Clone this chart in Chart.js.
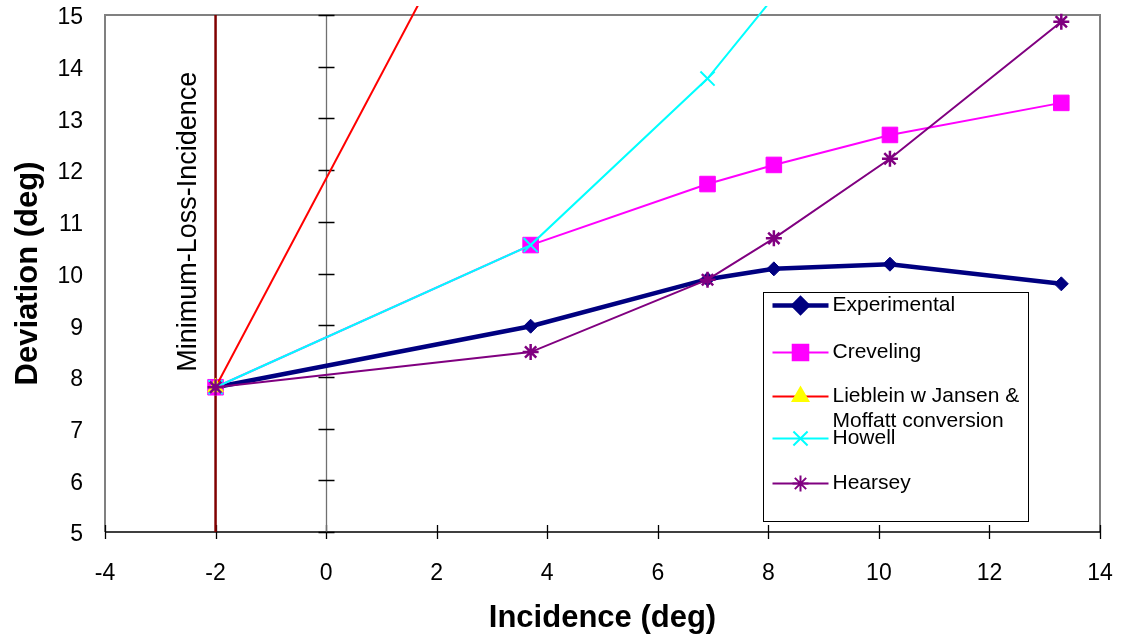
<!DOCTYPE html>
<html>
<head>
<meta charset="utf-8">
<script src="https://cdn.jsdelivr.net/npm/chart.js@4.4.1/dist/chart.umd.min.js"></script>
<style>
html, body { margin: 0; padding: 0; background: #fff; }
canvas { display: block; }
</style>
</head>
<body>
<canvas id="devChart" width="1122" height="641"></canvas>
<script>
// values
const experimentalX = [-2, 3.7, 6.9, 8.1, 10.2, 13.3];
const experimentalY = [7.8, 8.98, 9.89, 10.09, 10.18, 9.8];
const crevelingX = [-2, 3.7, 6.9, 8.1, 10.2, 13.3];
const crevelingY = [7.8, 10.55, 11.73, 12.1, 12.68, 13.3];
const liebleinX = [-2, 3.7];
const liebleinY = [7.8, 19.3];
const howellX = [-2, 3.7, 6.9, 8.1];
const howellY = [7.8, 10.55, 13.77, 15.35];
const hearseyX = [-2, 3.7, 6.9, 8.1, 10.2, 13.3];
const hearseyY = [7.8, 8.48, 9.88, 10.68, 12.22, 14.87];
const minLossX = [-2, -2];
const minLossY = [5, 15];
const xTicks = [-4, -2, 0, 2, 4, 6, 8, 10, 12, 14];
const yTicks = [5, 6, 7, 8, 9, 10, 11, 12, 13, 14, 15];

const FONT = '"Liberation Sans", Arial, sans-serif';

function pts(xs, ys) {
    return xs.map((x, i) => ({ x: x, y: ys[i] }));
}

const axesPlugin = {
    id: 'axesLines',
    beforeDatasetsDraw(chart) {
        const { ctx, chartArea: a, scales: { x, y } } = chart;
        ctx.save();
        // plot area frame
        ctx.strokeStyle = '#808080';
        ctx.lineWidth = 2;
        ctx.beginPath();
        ctx.moveTo(a.left, a.bottom);
        ctx.lineTo(a.left, a.top);
        ctx.lineTo(a.right, a.top);
        ctx.lineTo(a.right, a.bottom);
        ctx.stroke();
        // x axis with crossing ticks
        ctx.strokeStyle = '#000';
        ctx.lineWidth = 1.3;
        ctx.beginPath();
        ctx.moveTo(a.left, a.bottom);
        ctx.lineTo(a.right, a.bottom);
        xTicks.forEach(v => {
            const px = Math.round(x.getPixelForValue(v)) + 0.5;
            ctx.moveTo(px, a.bottom - 7);
            ctx.lineTo(px, a.bottom + 7);
        });
        ctx.stroke();
        // y axis crossing at x = 0
        const x0 = Math.round(x.getPixelForValue(0)) + 0.5;
        ctx.strokeStyle = '#707070';
        ctx.beginPath();
        ctx.moveTo(x0, a.top);
        ctx.lineTo(x0, a.bottom);
        ctx.stroke();
        ctx.strokeStyle = '#000';
        ctx.beginPath();
        yTicks.forEach(v => {
            const py = Math.round(y.getPixelForValue(v)) + 0.5;
            ctx.moveTo(x0 - 8, py);
            ctx.lineTo(x0 + 8, py);
        });
        ctx.stroke();
        ctx.restore();
    },
    afterDraw(chart) {
        const { ctx, scales: { x, y } } = chart;
        ctx.save();
        // label of the minimum loss line
        ctx.translate(x.getPixelForValue(-2) - 27, y.getPixelForValue(11.0));
        ctx.rotate(-Math.PI / 2);
        ctx.font = '27px ' + FONT;
        ctx.fillStyle = '#000';
        ctx.textAlign = 'center';
        ctx.textBaseline = 'middle';
        ctx.fillText('Minimum-Loss-Incidence', 0, 0);
        ctx.restore();

        // legend box
        const box = { left: 763.5, top: 292.5, right: 1028.5, bottom: 521.5 };
        const rowOffsets = [13, 60, 104, 146, 191];
        ctx.save();
        ctx.fillStyle = '#fff';
        ctx.fillRect(box.left, box.top, box.right - box.left, box.bottom - box.top);
        ctx.strokeStyle = '#000';
        ctx.lineWidth = 1;
        ctx.strokeRect(box.left, box.top, box.right - box.left, box.bottom - box.top);
        ctx.font = '21px ' + FONT;
        ctx.textBaseline = 'middle';
        chart.data.datasets.filter(d => !d.hideInLegend).forEach((ds, i) => {
            const cy = box.top + rowOffsets[i];
            ctx.strokeStyle = ds.borderColor;
            ctx.lineWidth = ds.borderWidth;
            ctx.beginPath();
            ctx.moveTo(box.left + 9, cy);
            ctx.lineTo(box.left + 65, cy);
            ctx.stroke();
            ctx.fillStyle = ds.pointBackgroundColor;
            ctx.strokeStyle = ds.pointBorderColor;
            Chart.helpers.drawPoint(ctx, {
                pointStyle: ds.pointStyle,
                radius: ds.pointRadius,
                borderWidth: ds.pointBorderWidth,
                rotation: 0
            }, box.left + 37, cy);
            // wrap long labels
            const words = ds.label.split(' ');
            const lines = [];
            let cur = '';
            words.forEach(w => {
                const t = cur ? cur + ' ' + w : w;
                if (ctx.measureText(t).width > 193 && cur) { lines.push(cur); cur = w; }
                else cur = t;
            });
            lines.push(cur);
            ctx.fillStyle = '#000';
            lines.forEach((ln, k) => ctx.fillText(ln, box.left + 69, cy + k * 25));
        });
        ctx.restore();
    }
};

const ctx = document.getElementById('devChart').getContext('2d');
new Chart(ctx, {
    type: 'scatter',
    data: {
        datasets: [{
            label: 'Experimental',
            data: pts(experimentalX, experimentalY),
            showLine: true,
            borderColor: '#000080',
            borderWidth: 4.5,
            pointStyle: 'rectRot',
            pointRadius: 7,
            pointBackgroundColor: '#000080',
            pointBorderColor: '#000080',
            pointBorderWidth: 1,
            order: 5
        }, {
            label: 'Creveling',
            data: pts(crevelingX, crevelingY),
            showLine: true,
            borderColor: '#ff00ff',
            borderWidth: 2,
            pointStyle: 'rect',
            pointRadius: 11,
            pointBackgroundColor: '#ff00ff',
            pointBorderColor: '#ff00ff',
            pointBorderWidth: 1,
            order: 4
        }, {
            label: 'Lieblein w Jansen & Moffatt conversion',
            data: pts(liebleinX, liebleinY),
            showLine: true,
            borderColor: '#ff0000',
            borderWidth: 2,
            pointStyle: 'triangle',
            pointRadius: 9,
            pointBackgroundColor: '#ffff00',
            pointBorderColor: '#ffff00',
            pointBorderWidth: 1,
            order: 3
        }, {
            label: 'Howell',
            data: pts(howellX, howellY),
            showLine: true,
            borderColor: '#00ffff',
            borderWidth: 2,
            pointStyle: 'crossRot',
            pointRadius: 10,
            pointBackgroundColor: '#00ffff',
            pointBorderColor: '#00ffff',
            pointBorderWidth: 2,
            order: 2
        }, {
            label: 'Hearsey',
            data: pts(hearseyX, hearseyY),
            showLine: true,
            borderColor: '#800080',
            borderWidth: 2,
            pointStyle: 'star',
            pointRadius: 8,
            pointBackgroundColor: '#800080',
            pointBorderColor: '#800080',
            pointBorderWidth: 2.5,
            order: 1
        }, {
            label: 'Minimum-Loss-Incidence',
            hideInLegend: true,
            data: pts(minLossX, minLossY),
            showLine: true,
            borderColor: '#800000',
            borderWidth: 2.5,
            pointRadius: 0,
            order: 6
        }]
    },
    options: {
        responsive: false,
        animation: false,
        clip: { left: 0, top: 9, right: 0, bottom: 0 },
        layout: { padding: { left: 0, top: 15, right: 22, bottom: 0 } },
        plugins: {
            legend: { display: false },
            tooltip: { enabled: false }
        },
        scales: {
            x: {
                type: 'linear',
                min: -4,
                max: 14,
                grid: { display: false, drawTicks: false, tickLength: 0 },
                border: { display: false },
                afterBuildTicks: s => { s.ticks = xTicks.map(v => ({ value: v })); },
                afterFit: s => { s.height = 109; s.paddingLeft = 0; s.paddingRight = 0; },
                ticks: {
                    padding: 28,
                    color: '#000',
                    font: { family: FONT, size: 23 }
                },
                title: {
                    display: true,
                    text: 'Incidence (deg)',
                    color: '#000',
                    font: { family: FONT, size: 31, weight: 'bold' },
                    padding: { top: 0, bottom: 4 }
                }
            },
            y: {
                type: 'linear',
                min: 5,
                max: 15,
                grid: { display: false, drawTicks: false, tickLength: 0 },
                border: { display: false },
                afterBuildTicks: s => { s.ticks = yTicks.map(v => ({ value: v })); },
                afterFit: s => { s.width = 105; s.paddingTop = 0; s.paddingBottom = 0; },
                ticks: {
                    padding: 22,
                    labelOffset: 3,
                    color: '#000',
                    font: { family: FONT, size: 23 }
                },
                title: {
                    display: true,
                    text: 'Deviation (deg)',
                    color: '#000',
                    font: { family: FONT, size: 31, weight: 'bold' },
                    padding: { top: 10, bottom: 0 }
                }
            }
        }
    },
    plugins: [axesPlugin]
});
</script>
</body>
</html>
